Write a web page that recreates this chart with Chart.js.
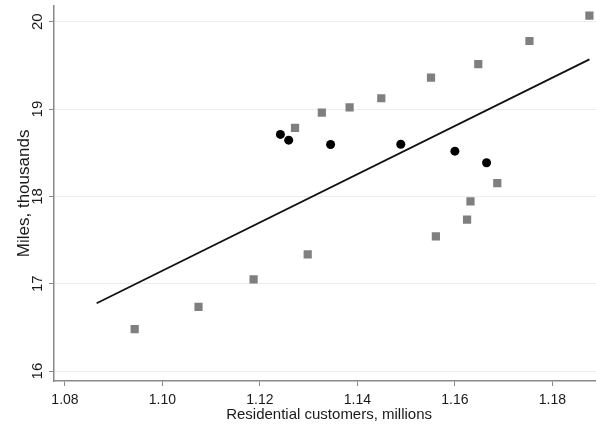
<!DOCTYPE html>
<html>
<head>
<meta charset="utf-8">
<script src="https://cdn.jsdelivr.net/npm/chart.js@4"></script>
<style>
  html, body { margin: 0; padding: 0; background: #fff; overflow: hidden; width: 596px; height: 425px; }
  #wrap { position: relative; width: 610px; height: 425px; }
</style>
</head>
<body>
<div id="wrap"><canvas id="c" width="610" height="425"></canvas></div>
<script>
// Gray squares
const squareX = [1.0943, 1.1074, 1.1187, 1.1298, 1.1561, 1.1625, 1.1632, 1.1687, 1.1272, 1.1327, 1.1384, 1.1449, 1.1551, 1.1648, 1.1753, 1.1876];
const squareY = [16.48, 16.735, 17.05, 17.337, 17.543, 17.733, 17.943, 18.152, 18.785, 18.96, 19.02, 19.124, 19.36, 19.516, 19.78, 20.07];
// Black circles
const circleX = [1.1242, 1.1259, 1.1345, 1.1489, 1.1600, 1.1665];
const circleY = [18.71, 18.644, 18.594, 18.598, 18.518, 18.385];
// Fitted line endpoints
const lineX = [1.0865, 1.1876];
const lineY = [16.777, 19.57];
// Ticks
const xTicks = [1.08, 1.10, 1.12, 1.14, 1.16, 1.18];
const yTicks = [16, 17, 18, 19, 20];
const xTitle = 'Residential customers, millions';
const yTitle = 'Miles, thousands';

const FONT = 'Liberation Sans, Arial, sans-serif';

const pts = (xs, ys) => xs.map((x, i) => ({x: x, y: ys[i]}));

const yLabelPlugin = {
  id: 'yLabels',
  afterDraw(chart) {
    const ctx = chart.ctx;
    const ys = chart.scales.y;
    ctx.save();
    ctx.fillStyle = '#1a1a1a';
    ctx.font = '15px ' + FONT;
    ctx.textAlign = 'center';
    ctx.textBaseline = 'middle';
    yTicks.forEach(v => {
      const py = ys.getPixelForValue(v);
      ctx.save();
      ctx.translate(38, py);
      ctx.rotate(-Math.PI / 2);
      ctx.fillText(String(v), 0, 0);
      ctx.restore();
    });
    ctx.restore();
  }
};

new Chart(document.getElementById('c'), {
  type: 'scatter',
  data: {
    datasets: [
      {
        type: 'line',
        data: pts(lineX, lineY),
        borderColor: '#111',
        borderWidth: 1.8,
        pointRadius: 0,
        fill: false,
        order: 3
      },
      {
        data: pts(squareX, squareY),
        pointStyle: 'rect',
        pointRadius: 5.8,
        backgroundColor: '#7f7f7f',
        borderColor: '#7f7f7f',
        borderWidth: 0,
        order: 2
      },
      {
        data: pts(circleX, circleY),
        pointStyle: 'circle',
        pointRadius: 4.5,
        backgroundColor: '#000',
        borderColor: '#000',
        borderWidth: 0,
        order: 1
      }
    ]
  },
  options: {
    responsive: false,
    animation: false,
    layout: { padding: { top: 4.5, right: 4, left: 0, bottom: 0 } },
    plugins: { legend: { display: false }, tooltip: { enabled: false } },
    scales: {
      x: {
        type: 'linear',
        min: 1.07775,
        max: 1.0800 + (606 - 65) / 4890,
        afterBuildTicks: s => { s.ticks = xTicks.map(v => ({value: v})); },
        afterFit: s => { s.height = 44; },
        ticks: {
          color: '#1a1a1a',
          font: { family: FONT, size: 14 },
          padding: 6,
          maxRotation: 0,
          callback: v => v.toFixed(2)
        },
        grid: { display: true, drawOnChartArea: false, drawTicks: true, tickLength: 5, tickColor: '#888', tickWidth: 1 },
        border: { display: true, color: '#888', width: 1.5 },
        title: { display: true, text: xTitle, color: '#1a1a1a', font: { family: FONT, size: 15 }, padding: { top: 0, bottom: 1.2 } }
      },
      y: {
        type: 'linear',
        min: 15.886,
        max: 20.183,
        afterBuildTicks: s => { s.ticks = yTicks.map(v => ({value: v})); },
        afterFit: s => { s.width = 54; },
        ticks: {
          color: 'rgba(0,0,0,0)',
          font: { family: FONT, size: 1 }
        },
        grid: { display: true, color: '#ececec', lineWidth: 1, drawTicks: true, tickLength: 5, tickColor: '#888', tickWidth: 1 },
        border: { display: true, color: '#888', width: 1.5 },
        title: { display: true, text: yTitle, color: '#1a1a1a', font: { family: FONT, size: 17 }, padding: { top: 13.8, bottom: 0 } }
      }
    }
  },
  plugins: [yLabelPlugin]
});
</script>
</body>
</html>
